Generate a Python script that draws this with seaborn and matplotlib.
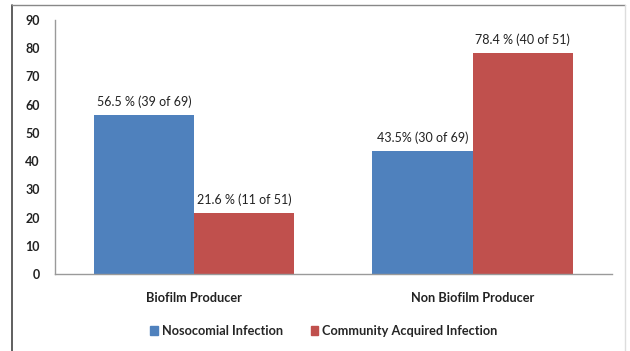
import matplotlib
matplotlib.use("Agg")
import matplotlib.pyplot as plt
import seaborn as sns
import pandas as pd
from matplotlib.patches import Rectangle

categories = ["Biofilm Producer", "Non Biofilm Producer"]
series = ["Nosocomial Infection", "Community Acquired Infection"]
nosocomial = [56.5, 43.5]
community = [21.6, 78.4]
labels_nosocomial = ["56.5 % (39 of 69)", "43.5% (30 of 69)"]
labels_community = ["21.6 % (11 of 51)", "78.4 % (40 of 51)"]
yticks = [0, 10, 20, 30, 40, 50, 60, 70, 80, 90]

df = pd.DataFrame({
    "category": categories * 2,
    "series": [series[0]] * 2 + [series[1]] * 2,
    "value": nosocomial + community,
})

sns.set_theme(style="white")
plt.rcParams["font.family"] = ["Lato", "DejaVu Sans"]

fig = plt.figure(figsize=(6.3, 3.51), dpi=100)
ax = fig.add_axes([0.0873, 0.2194, 0.8837, 0.7236])

palette = {series[0]: "#4F81BD", series[1]: "#C0504D"}
sns.barplot(data=df, x="category", y="value", hue="series", hue_order=series,
            order=categories, palette=palette, width=0.72, saturation=1,
            ax=ax, legend=False, edgecolor="none")

ax.set_ylim(0, 90)
ax.set_yticks(yticks)
ax.set_yticklabels([str(t) for t in yticks], fontsize=9, fontweight="bold", color="#222222")
ax.set_xlim(-0.5, 1.5)
ax.set_xlabel("")
ax.set_ylabel("")
ax.tick_params(axis="y", length=0, pad=11)
ax.tick_params(axis="x", length=0, pad=13)
for lbl in ax.get_xticklabels():
    lbl.set_fontsize(9.2)
    lbl.set_fontweight("bold")
    lbl.set_color("#222222")

for s in ["top", "right"]:
    ax.spines[s].set_visible(False)
for s in ["left", "bottom"]:
    ax.spines[s].set_color("#9a9a9a")
    ax.spines[s].set_linewidth(1.0)

for container, texts in zip(ax.containers, [labels_nosocomial, labels_community]):
    ax.bar_label(container, labels=texts, padding=5, fontsize=9, color="#222222")

# legend below the axes
handles = [Rectangle((0, 0), 1, 1, color=palette[s]) for s in series]
fig.legend(handles, series, loc="center", bbox_to_anchor=(0.514, 0.057), ncol=2,
           frameon=False, handlelength=0.6, handleheight=0.6,
           columnspacing=2.2, handletextpad=0.3,
           prop={"weight": "bold", "size": 9.2})

# outer chart frame
fig.lines.append(plt.Line2D([0.019, 0.019], [0.0, 0.986], transform=fig.transFigure,
                            color="#444444", lw=1.2))
fig.lines.append(plt.Line2D([0.019, 0.992], [0.986, 0.986], transform=fig.transFigure,
                            color="#888888", lw=1.0))
fig.lines.append(plt.Line2D([0.992, 0.992], [0.0, 0.986], transform=fig.transFigure,
                            color="#dddddd", lw=1.0))

fig.savefig("out.png", dpi=100)
